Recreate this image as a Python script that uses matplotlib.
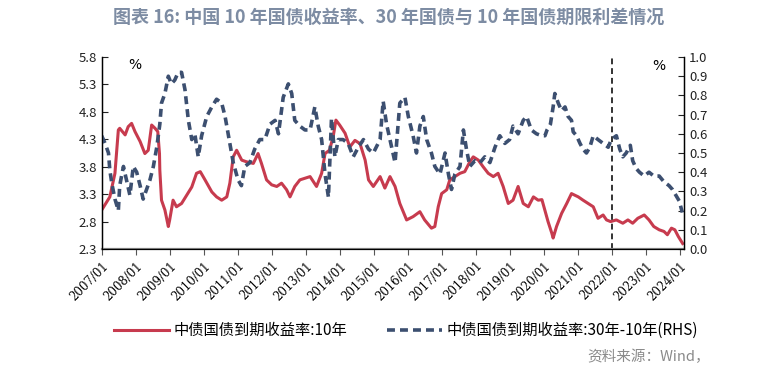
import matplotlib.pyplot as plt

plt.rcParams['font.family'] = ['Noto Sans CJK SC', 'DejaVu Sans']

# 10Y yield (left axis, %)
yield_x = [2007.00, 2007.24, 2007.39, 2007.49, 2007.53, 2007.69, 2007.78, 2007.88, 2007.98,
           2008.13, 2008.27, 2008.37, 2008.47, 2008.57, 2008.65, 2008.70, 2008.71, 2008.76,
           2008.86, 2008.96, 2009.00, 2009.10, 2009.20, 2009.35, 2009.50, 2009.65, 2009.79,
           2009.90, 2010.04, 2010.24, 2010.38, 2010.53, 2010.68, 2010.77, 2010.87, 2010.97,
           2011.12, 2011.26, 2011.46, 2011.60, 2011.70, 2011.85, 2012.00, 2012.15, 2012.29,
           2012.44, 2012.54, 2012.68, 2012.83, 2012.98, 2013.13, 2013.32, 2013.47, 2013.57,
           2013.70, 2013.81, 2013.89, 2014.00, 2014.16, 2014.30, 2014.45, 2014.60, 2014.75,
           2014.85, 2014.99, 2015.19, 2015.33, 2015.48, 2015.63, 2015.77, 2015.97, 2016.16,
           2016.36, 2016.50, 2016.70, 2016.80, 2016.90, 2017.00, 2017.15, 2017.24, 2017.39,
           2017.54, 2017.68, 2017.83, 2017.93, 2018.08, 2018.22, 2018.37, 2018.52, 2018.66,
           2018.81, 2018.96, 2019.10, 2019.25, 2019.40, 2019.55, 2019.70, 2019.84, 2019.95,
           2020.04, 2020.13, 2020.24, 2020.28, 2020.38, 2020.53, 2020.68, 2020.82, 2021.02,
           2021.16, 2021.31, 2021.46, 2021.60, 2021.75, 2021.85, 2021.97, 2022.14, 2022.33,
           2022.48, 2022.62, 2022.77, 2022.96, 2023.10, 2023.24, 2023.40, 2023.54, 2023.64,
           2023.76, 2023.86, 2023.96, 2024.09]
yield_10y = [3.01, 3.25, 3.68, 4.47, 4.50, 4.38, 4.53, 4.59, 4.44,
             4.26, 4.04, 4.10, 4.56, 4.50, 4.44, 4.04, 3.74, 3.19,
             3.01, 2.71, 2.83, 3.19, 3.07, 3.13, 3.28, 3.43, 3.68,
             3.71, 3.56, 3.34, 3.25, 3.19, 3.25, 3.50, 3.98, 4.10,
             3.92, 3.89, 3.86, 4.04, 3.86, 3.56, 3.47, 3.44, 3.50,
             3.38, 3.25, 3.44, 3.56, 3.59, 3.62, 3.44, 3.68, 4.04,
             4.10, 4.35, 4.65, 4.56, 4.41, 4.16, 4.28, 4.22, 3.92,
             3.56, 3.44, 3.62, 3.41, 3.62, 3.44, 3.13, 2.83, 2.89,
             2.98, 2.83, 2.68, 2.71, 3.07, 3.31, 3.38, 3.56, 3.62,
             3.68, 3.71, 3.89, 3.98, 3.92, 3.80, 3.68, 3.62, 3.68,
             3.44, 3.13, 3.19, 3.44, 3.13, 3.07, 3.25, 3.19, 3.20,
             3.00, 2.80, 2.59, 2.50, 2.71, 2.95, 3.13, 3.31, 3.25,
             3.19, 3.13, 3.07, 2.86, 2.92, 2.83, 2.80, 2.83, 2.77,
             2.83, 2.77, 2.86, 2.92, 2.83, 2.71, 2.65, 2.62, 2.56,
             2.68, 2.65, 2.53, 2.40]

# 30Y - 10Y spread (right axis, %)
spread_x = [2007.00, 2007.10, 2007.20, 2007.24, 2007.30, 2007.39, 2007.49, 2007.53, 2007.64,
            2007.73, 2007.83, 2007.93, 2008.03, 2008.13, 2008.22, 2008.32, 2008.42, 2008.52,
            2008.62, 2008.71, 2008.76, 2008.86, 2008.96, 2009.05, 2009.15, 2009.25, 2009.35,
            2009.45, 2009.55, 2009.65, 2009.74, 2009.84, 2009.94, 2010.09, 2010.24, 2010.38,
            2010.53, 2010.63, 2010.77, 2010.87, 2011.01, 2011.11, 2011.21, 2011.36, 2011.50,
            2011.65, 2011.80, 2011.95, 2012.10, 2012.20, 2012.34, 2012.49, 2012.59, 2012.68,
            2012.83, 2012.98, 2013.13, 2013.27, 2013.37, 2013.47, 2013.57, 2013.67, 2013.76,
            2013.86, 2013.96, 2014.10, 2014.25, 2014.40, 2014.55, 2014.70, 2014.85, 2014.99,
            2015.19, 2015.28, 2015.38, 2015.48, 2015.63, 2015.77, 2015.92, 2016.02, 2016.16,
            2016.26, 2016.36, 2016.46, 2016.56, 2016.70, 2016.80, 2016.95, 2017.10, 2017.20,
            2017.29, 2017.39, 2017.54, 2017.64, 2017.73, 2017.83, 2017.98, 2018.13, 2018.27,
            2018.42, 2018.57, 2018.71, 2018.86, 2019.00, 2019.10, 2019.25, 2019.40, 2019.50,
            2019.64, 2019.79, 2019.94, 2020.04, 2020.10, 2020.20, 2020.28, 2020.33, 2020.43,
            2020.53, 2020.63, 2020.72, 2020.82, 2020.87, 2020.97, 2021.07, 2021.16, 2021.26,
            2021.36, 2021.46, 2021.60, 2021.75, 2021.90, 2021.99, 2022.14, 2022.24, 2022.33,
            2022.43, 2022.55, 2022.62, 2022.72, 2022.82, 2022.96, 2023.10, 2023.24, 2023.40,
            2023.54, 2023.69, 2023.79, 2023.89, 2023.99, 2024.08]
spread_30_10 = [0.59, 0.55, 0.50, 0.41, 0.34, 0.26, 0.20, 0.33, 0.43,
                0.36, 0.28, 0.43, 0.40, 0.33, 0.26, 0.31, 0.36, 0.43,
                0.53, 0.65, 0.76, 0.81, 0.90, 0.86, 0.88, 0.92, 0.92,
                0.83, 0.67, 0.57, 0.60, 0.48, 0.59, 0.69, 0.74, 0.78,
                0.76, 0.69, 0.55, 0.45, 0.36, 0.33, 0.43, 0.45, 0.52,
                0.57, 0.57, 0.65, 0.67, 0.60, 0.79, 0.86, 0.81, 0.67,
                0.64, 0.62, 0.62, 0.74, 0.64, 0.57, 0.39, 0.27, 0.68,
                0.48, 0.57, 0.57, 0.55, 0.48, 0.53, 0.57, 0.52, 0.50,
                0.57, 0.77, 0.65, 0.57, 0.45, 0.76, 0.79, 0.69, 0.59,
                0.50, 0.64, 0.69, 0.57, 0.50, 0.43, 0.39, 0.50, 0.39,
                0.31, 0.39, 0.43, 0.62, 0.52, 0.43, 0.46, 0.45, 0.48,
                0.45, 0.53, 0.59, 0.55, 0.57, 0.64, 0.60, 0.67, 0.69,
                0.62, 0.60, 0.59, 0.59, 0.62, 0.65, 0.74, 0.81, 0.76,
                0.72, 0.74, 0.69, 0.67, 0.61, 0.59, 0.55, 0.52, 0.50,
                0.53, 0.59, 0.57, 0.55, 0.53, 0.57, 0.59, 0.52, 0.48,
                0.50, 0.54, 0.46, 0.42, 0.40, 0.38, 0.40, 0.38, 0.38,
                0.35, 0.33, 0.31, 0.28, 0.25, 0.19]

years = list(range(2007, 2025))
split_year = 2022

red = '#C73B4E'
navy = '#3C4F70'

fig = plt.figure(figsize=(7.78, 3.79), dpi=100)
ax = fig.add_axes([0.1307, 0.343, 0.7485, 0.5066])
ax2 = ax.twinx()

ax.plot(yield_x, yield_10y, color=red, lw=2.2, label='中债国债到期收益率:10年')
ax2.plot(spread_x, spread_30_10, color=navy, lw=2.6, ls=(0, (2.2, 1.4)),
         label='中债国债到期收益率:30年-10年(RHS)')
ax.axvline(split_year, color='#333333', lw=1.4, ls=(0, (3, 2)))

ax.set_xlim(2007.0, 2024.13)
ax.set_ylim(2.3, 5.8)
ax.set_yticks([2.3, 2.8, 3.3, 3.8, 4.3, 4.8, 5.3, 5.8])
ax2.set_ylim(0, 1.0)
ax2.set_yticks([i / 10 for i in range(11)])
ax.set_xticks(years)
ax.set_xticklabels([f'{y}/01' for y in years], rotation=45, ha='right',
                   rotation_mode='anchor', fontsize=8.5, family='DejaVu Serif')

for a in (ax, ax2):
    a.spines['top'].set_visible(False)
    a.tick_params(axis='y', direction='in', length=4, labelsize=9.5, colors='#222222')
ax.spines['bottom'].set_color('#808080')
ax.spines['bottom'].set_linewidth(1.6)
ax.tick_params(axis='x', direction='out', length=4, color='#555555')
ax.spines['left'].set_linewidth(1.0)
ax2.spines['right'].set_linewidth(1.0)

ax.text(0.045, 0.94, '%', transform=ax.transAxes, fontsize=10, family='DejaVu Sans')
ax2.text(0.945, 0.93, '%', transform=ax2.transAxes, fontsize=10, family='DejaVu Sans')

fig.text(0.5, 0.955, '图表 16: 中国 10 年国债收益率、30 年国债与 10 年国债期限利差情况',
         ha='center', va='center', fontsize=13, fontweight='bold', color='#7D8CA3')

h1, l1 = ax.get_legend_handles_labels()
h2, l2 = ax2.get_legend_handles_labels()
fig.legend(h1 + h2, l1 + l2, loc='center', bbox_to_anchor=(0.522, 0.128), ncol=2,
           frameon=False, fontsize=11, handlelength=3.6, columnspacing=2.6, handletextpad=0.3)

fig.text(0.913, 0.058, '资料来源：Wind，', ha='right', va='center', fontsize=10.5, color='#8A8A8A')

fig.savefig('out.png', dpi=100)
